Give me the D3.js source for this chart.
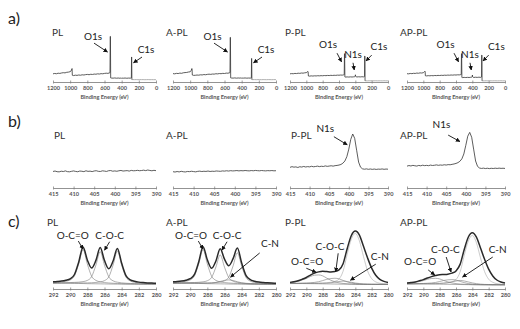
<!DOCTYPE html>
<html>
<head>
<meta charset="utf-8">
<script src="https://cdn.jsdelivr.net/npm/d3@7"></script>
<style>
  body { margin: 0; background: #fff; }
  svg { display: block; }
</style>
</head>
<body>
<svg id="chart" width="520" height="329"></svg>
<script>
// ---------- sample names ----------
const panelNames = ["PL", "A-PL", "P-PL", "AP-PL"];

// ---------- a) survey spectra ----------
const surveyTicks = [1200, 1000, 800, 600, 400, 200, 0];
const surveyBE = [1200,1180,1160,1140,1120,1100,1080,1060,1040,1020,1000,990,980,978,975,
  960,940,920,900,880,860,840,820,800,780,760,740,720,700,680,660,640,620,600,580,560,
  545,536,533,531,528,520,500,480,460,440,420,410,402,399,397,390,380,360,340,320,300,290,
  287,285,283,281,270,250,230,210,190,170,150,130,110,90,70,50,30,10,0];
const surveyPL = [17,17.8,17.2,18.3,17.9,18.8,19.4,19,20.2,20.6,21.5,23,27,28,14,
  13.4,14.2,13.8,14.6,14.1,15,14.6,15.3,15.8,15.2,16.1,15.7,16.5,16.2,17,16.6,17.4,17.1,17.9,18.3,18,
  18.8,19.5,95,95,8.5,8.2,8,8.4,7.9,8.3,7.8,8.2,7.9,8.3,7.8,8.1,7.9,8.3,7.8,8.2,8,8.3,
  8.6,52,52,5,5,4.9,5,4.8,5,4.9,5,4.8,4.9,5,4.8,4.9,4.8,4.9,4.8];
const surveyAPL = [17.5,17,18,17.6,18.5,18.1,19.2,19.6,19.9,20.8,21.2,23.5,28,27,14.5,
  13.8,14,14.5,14.2,15,14.7,15.5,15.1,15.9,16.3,15.9,16.6,16.4,17.2,16.9,17.6,17.3,18,17.7,18.5,18.3,
  19,19.6,93,93,8.6,8.3,8.1,8.5,8,8.4,8.1,8.4,8,8.5,8,8.2,8.1,8.4,8,8.3,8.1,8.4,
  8.8,49,49,5,4.9,5,4.8,5,4.9,4.8,5,4.9,4.8,5,4.9,4.8,4.9,5,4.9];
const surveyPPL = [17,17.5,17.2,17.9,17.6,18.3,18,18.7,18.4,19.1,19.5,21,22,21,12.5,
  12.2,12.8,12.4,12.9,12.6,13.1,12.8,13.2,13,13.5,13.2,13.7,13.4,13.9,13.6,14,13.8,14.3,14.1,14.5,14.3,
  14.8,15.2,59,59,10.5,10.2,10.6,10.3,10.7,10.4,10.8,11,12,15,12,10.8,10.5,10.9,10.6,11,10.7,11,
  11.4,54,54,2.5,2.5,2.4,2.6,2.5,2.4,2.5,2.6,2.4,2.5,2.5,2.4,2.6,2.5,2.4,2.5];
const surveyAPPL = [17.3,17,17.8,17.4,18.1,17.8,18.6,18.2,19,18.7,19.4,20.8,22.5,21.5,13,
  12.7,13.2,12.9,13.4,13,13.6,13.3,13.8,13.5,14,13.7,14.2,13.9,14.4,14.1,14.6,14.3,14.8,14.5,15,14.8,
  15.3,15.6,59,59,9.5,9.2,9.6,9.3,9.7,9.4,9.8,10,11,14.5,11,9.8,9.5,9.9,9.6,10,9.7,10,
  10.5,56,56,2.5,2.4,2.5,2.6,2.4,2.5,2.5,2.4,2.6,2.5,2.4,2.5,2.6,2.4,2.5,2.5];
const surveyNotes = [
  [{t:"O1s", tx:734, ty:87.5, x1:722, y1:81, x2:565, y2:62.5},
   {t:"C1s", tx:116, ty:60, x1:163, y1:52, x2:262, y2:40}],
  [{t:"O1s", tx:740, ty:87.5, x1:722, y1:81, x2:565, y2:62.5},
   {t:"C1s", tx:116, ty:60, x1:163, y1:52, x2:262, y2:40}],
  [{t:"O1s", tx:735, ty:71, x1:624, y1:60, x2:569, y2:42},
   {t:"N1s", tx:428, ty:50, x1:428, y1:40, x2:413, y2:25},
   {t:"C1s", tx:110, ty:67, x1:200, y1:56, x2:269, y2:44}],
  [{t:"O1s", tx:729, ty:71, x1:624, y1:60, x2:569, y2:42},
   {t:"N1s", tx:429, ty:50, x1:428, y1:40, x2:413, y2:25},
   {t:"C1s", tx:106, ty:67, x1:200, y1:56, x2:269, y2:44}]
];

// ---------- b) N1s high-resolution ----------
const n1sTicks = [415, 410, 405, 400, 395, 390];
const n1sBE = [415,414.5,414,413.5,413,412.5,412,411.5,411,410.5,410,409.5,409,408.5,408,407.5,
  407,406.5,406,405.5,405,404.5,404,403.5,403,402.5,402,401.5,401,400.5,400,399.5,399,398.5,
  398,397.5,397,396.5,396,395.5,395,394.5,394,393.5,393,392.5,392,391.5,391,390.5,390];
const n1sPL = [30.6,31.4,30.2,29.9,31.1,30.5,31.7,30.3,30,30.9,31.6,30.7,30.1,31.4,31,30.3,
  31.9,30.8,31.2,30.4,31.5,32,30.9,30.6,31.8,31.3,30.7,32,32.3,31.1,31.6,31,31.9,32.5,
  31.4,31.8,32.2,31.3,32.6,31.9,32.1,32.7,32,32.4,33,32.2,33.3,32.5,31.9,32.7,32.1];
const n1sAPL = [30.2,29.6,30.5,29.8,30.9,30.1,29.7,30.6,30.3,31,30.4,29.9,30.8,31.2,30.5,31,
  30.7,31.4,30.6,31.1,30.8,31.5,31.2,30.9,31.6,31.3,31.9,31.4,32.1,31.6,31.9,32.3,31.7,32.2,
  31.8,32.4,32,31.7,32.3,31.9,32.5,32.1,31.8,32.4,32,31.7,32.2,31.9,32.3,31.8,32];
const n1sPPL = [38.2,39.5,38.6,39.1,38,39.4,38.8,39.9,38.9,39.6,39.1,40.2,39.3,39.8,40.5,39.6,
  40.3,39.8,40.9,40.1,40.6,41.2,40.5,41.4,41.8,42.5,43.6,46,50,58,72,90,100,92,
  70,48,38.5,35.5,34.8,35.4,34.6,35.2,34.5,35.1,34.4,35,34.7,35.3,34.6,35.1,34.8];
const n1sAPPL = [40.5,41.6,40.8,41.9,41.2,40.6,41.8,41.1,42.2,41.4,41.9,41.3,42.4,41.7,42.1,42.8,
  42,42.6,42.2,43,42.5,43.3,43,43.8,44.5,45.5,47,49.5,54,63,79,96,103,94,
  72,50,40,37,36.2,36.8,36,36.6,35.9,36.5,36.1,36.7,36.2,36.8,36.3,36.6,36.2];
const n1sNotes = [
  [], [],
  [{t:"N1s", tx:406, ty:104, x1:403.8, y1:95, x2:400.4, y2:80}],
  [{t:"N1s", tx:406.2, ty:111, x1:404.5, y1:98, x2:401.5, y2:86}]
];

// ---------- c) C1s high-resolution with fitted components ----------
const c1sTicks = [292, 290, 288, 286, 284, 282, 280];
const c1sBE = [292,291.5,291,290.5,290,289.5,289,288.5,288,287.5,287,286.5,286,285.5,285,
  284.5,284,283.5,283,282.5,282,281.5,281,280.5,280];

// PL
const c1sPLmeas = [21,21.9,23.2,25.7,30.1,42.7,79.7,123.6,85.5,61.4,84.2,121.9,83.6,59.7,82.4,
  119,75.6,39.3,27.1,22.7,20.2,18.8,17.9,17.35,16.9];
const c1sPLbg = [17,17,16.9,16.8,16.7,16.5,16.3,16,15.7,15.5,15.3,15.1,14.9,14.7,14.5,14.3,14.2,14.1,14,14,14,14,14,14,14];
const c1sPLoco = [2.4,3,4,6,10,22,58,100,58,22,10,6,4,3,2.4,2,1.6,1.3,1.1,1,0.8,0.7,0.6,0.5,0.5];
const c1sPLcoc = [1,1.2,1.5,1.9,2.3,2.9,3.8,5.7,9.5,21,55,95,55,21,9.5,5.7,3.8,2.9,2.3,1.9,1.5,1.2,1,0.95,0.8];
const c1sPLcc = [0.6,0.7,0.8,1,1.1,1.3,1.6,1.9,2.3,2.9,3.9,5.8,9.7,21,56,97,56,21,9.7,5.8,3.9,2.9,2.3,1.9,1.6];

// A-PL
const c1sAPLmeas = [21.2,22,23.4,25.8,30.2,42.9,80,123.9,85.8,61,82.3,118.6,87.9,68.6,89.3,
  120.4,76.6,40.2,27.5,23,20.5,19.1,18.1,17.45,17];
const c1sAPLbg = [17,17,16.9,16.8,16.7,16.5,16.3,16,15.7,15.5,15.3,15.1,14.9,14.7,14.5,14.3,14.2,14.1,14,14,14,14,14,14,14];
const c1sAPLoco = [2.4,3,4,6,10,22,58,100,58,22,10,6,4,3,2.4,2,1.6,1.3,1.1,1,0.8,0.7,0.6,0.5,0.5];
const c1sAPLcoc = [0.9,1.1,1.4,1.7,2,2.6,3.4,5.1,8.5,18.7,49.3,85,49.3,18.7,8.5,5.1,3.4,2.6,2,1.7,1.4,1.1,0.9,0.85,0.7];
const c1sAPLcc = [0.55,0.6,0.7,0.9,1,1.2,1.5,1.8,2.2,2.8,3.7,5.5,9.2,20.2,53.4,92,53.4,20.2,9.2,5.5,3.7,2.8,2.2,1.8,1.5];
const c1sAPLcn = [0.3,0.3,0.4,0.4,0.5,0.6,0.8,1,1.4,2,4,7,10.5,12,10.5,7,4,2,1.2,0.8,0.6,0.5,0.4,0.3,0.3];

// P-PL
const c1sPPLmeas = [19.5,21.3,24.2,28.7,33.9,40.9,46.6,50.4,52.3,51.3,50.3,51.6,56.2,74.4,118.4,
  156.7,170.4,158.5,125.4,91.4,61.4,40.4,28.4,22.4,19.4];
const c1sPPLbg = [16,16,16,16,15.9,15.8,15.6,15.4,15.2,15,14.8,14.6,14.4,14.2,14,13.8,13.6,13.5,13.4,13.4,13.4,13.4,13.4,13.4,13.4];
const c1sPPLoco = [2.5,4,6.5,10.5,15,21,25,26,23.5,17,11,6.5,3.8,2.2,1.4,0.9,0.6,0.4,0.3,0.3,0.2,0.2,0.2,0.1,0.1];
const c1sPPLcoc = [0.4,0.6,0.8,1.2,1.7,2.5,3.8,6,9.5,13.5,16,17,15.5,11,7,4,2.2,1.2,0.8,0.5,0.4,0.3,0.2,0.2,0.1];
const c1sPPLcn = [0.2,0.2,0.3,0.3,0.4,0.5,0.7,1,1.5,2.3,3.5,5.5,7.5,9,8,6,4,2.5,1.4,0.8,0.5,0.3,0.2,0.2,0.1];
const c1sPPLcc = [0.4,0.5,0.6,0.7,0.9,1.1,1.5,2,2.6,3.5,5,8,15,38,88,132,150,128,82,40,17,7.5,3.5,1.8,1];

// AP-PL
const c1sAPPLmeas = [17.5,18.9,20.8,24,27.5,32.4,36.4,39.5,41.9,42.7,43.7,46.8,53.2,72.4,115.4,
  152.3,165.1,152.5,120.4,87.4,58.4,38.4,26.4,20.4,17.4];
const c1sAPPLbg = [15,15,15,15,14.9,14.8,14.6,14.4,14.2,14,13.8,13.6,13.4,13.2,13,12.8,12.6,12.5,12.4,12.4,12.4,12.4,12.4,12.4,12.4];
const c1sAPPLoco = [1.6,2.6,4.2,6.9,9.8,13.7,16.3,17,15.4,11.1,7.2,4.2,2.5,1.4,0.9,0.6,0.4,0.3,0.2,0.2,0.1,0.1,0.1,0.1,0.1];
const c1sAPPLcoc = [0.3,0.5,0.7,1,1.4,2.1,3.1,4.9,7.8,11.1,13.2,14,12.8,9.1,5.8,3.3,1.8,1,0.7,0.4,0.3,0.2,0.2,0.1,0.1];
const c1sAPPLcn = [0.2,0.3,0.3,0.4,0.5,0.7,0.9,1.3,2,3.1,4.7,7.3,10,12,10.7,8,5.3,3.3,1.9,1.1,0.7,0.4,0.3,0.2,0.1];
const c1sAPPLcc = [0.4,0.5,0.6,0.7,0.9,1.1,1.5,1.9,2.5,3.4,4.8,7.7,14.5,36.7,85,127.6,145,123.7,79.3,38.7,16.4,7.3,3.4,1.7,1];

const c1sNotes = [
  [{t:"O-C=O", tx:289.7, ty:148, x1:289.05, y1:141, x2:288.5, y2:117},
   {t:"C-O-C", tx:285.4, ty:148, x1:285.4, y1:139, x2:286.0, y2:114}],
  [{t:"O-C=O", tx:289.9, ty:148, x1:289.05, y1:141, x2:288.5, y2:117},
   {t:"C-O-C", tx:285.7, ty:148, x1:285.7, y1:139, x2:286.3, y2:114},
   {t:"C-N", tx:280.7, ty:124, x1:281.9, y1:106, x2:285.3, y2:35}],
  [{t:"O-C=O", tx:289.9, ty:71, x1:290.0, y1:61, x2:288.8, y2:49},
   {t:"C-O-C", tx:287.1, ty:115, x1:286.1, y1:105, x2:286.4, y2:51},
   {t:"C-N", tx:281.0, ty:85, x1:281.5, y1:73, x2:284.6, y2:26}],
  [{t:"O-C=O", tx:290.4, ty:71, x1:289.4, y1:56, x2:288.6, y2:41},
   {t:"C-O-C", tx:287.3, ty:106, x1:287.2, y1:94, x2:286.6, y2:50},
   {t:"C-N", tx:280.9, ty:106, x1:281.5, y1:94, x2:285.2, y2:35}]
];

// ---------- layout ----------
const FONT = "Lato, 'Open Sans', 'Liberation Sans', sans-serif";
const panelX = [[53, 156], [173, 276], [290, 388], [407, 505]];
const rows = [
  {label: "a)", labelY: 24, axisY: 82, k: 0.48, titleY: 36, titleX: [52, 166, 285, 400]},
  {label: "b)", labelY: 127, axisY: 188, k: 0.54, titleY: 139, titleX: [54, 166, 291, 400]},
  {label: "c)", labelY: 227, axisY: 289, k: 0.34, titleY: 226, titleX: [47, 166, 285, 400]}
];

const svg = d3.select("#chart");
svg.append("rect").attr("width", 520).attr("height", 329).attr("fill", "#fff");

svg.append("defs").append("marker")
  .attr("id", "ah").attr("viewBox", "0 0 10 10")
  .attr("refX", 9).attr("refY", 5)
  .attr("markerWidth", 4.5).attr("markerHeight", 4.5)
  .attr("markerUnits", "userSpaceOnUse").attr("orient", "auto")
  .append("path").attr("d", "M0,0L10,5L0,10z").attr("fill", "#111");

function makeScales(row, pi, domain) {
  const x = d3.scaleLinear().domain(domain).range(panelX[pi]);
  const y = d3.scaleLinear().domain([0, 100]).range([row.axisY, row.axisY - 100 * row.k]);
  return {x, y};
}

function drawAxis(g, row, x, ticks) {
  const ax = g.append("g")
    .attr("transform", `translate(0,${row.axisY})`)
    .call(d3.axisBottom(x).tickValues(ticks).tickSizeOuter(0).tickSizeInner(2)
      .tickPadding(2.5).tickFormat(d3.format("d")));
  ax.select(".domain").attr("stroke", "#777").attr("stroke-width", 0.8);
  ax.selectAll(".tick line").attr("stroke", "#777").attr("stroke-width", 0.7)
    .attr("y1", -1.5).attr("y2", 1.5);
  ax.selectAll(".tick text").attr("font-size", 5.6).attr("fill", "#555")
    .attr("font-family", FONT).attr("font-weight", 700);
  const r = x.range();
  g.append("text").attr("x", (r[0] + r[1]) / 2).attr("y", row.axisY + 17)
    .attr("text-anchor", "middle").attr("font-size", 5.6).attr("font-weight", 700)
    .attr("fill", "#555").attr("font-family", FONT).text("Binding Energy (eV)");
}

function drawNotes(g, notes, x, y) {
  notes.forEach(n => {
    g.append("text").attr("x", x(n.tx)).attr("y", y(n.ty)).attr("text-anchor", "middle")
      .attr("font-size", 10).attr("fill", "#222").attr("font-family", FONT).text(n.t);
    g.append("line").attr("x1", x(n.x1)).attr("y1", y(n.y1)).attr("x2", x(n.x2)).attr("y2", y(n.y2))
      .attr("stroke", "#111").attr("stroke-width", 0.9).attr("marker-end", "url(#ah)");
  });
}

function drawTitle(g, row, pi) {
  g.append("text").attr("x", row.titleX[pi]).attr("y", row.titleY)
    .attr("font-size", 10).attr("fill", "#333").attr("font-family", FONT).text(panelNames[pi]);
}

rows.forEach(row => {
  svg.append("text").attr("x", 8).attr("y", row.labelY).attr("font-size", 16)
    .attr("fill", "#222").attr("font-family", FONT).text(row.label);
});

// a) survey spectra
const surveySets = [surveyPL, surveyAPL, surveyPPL, surveyAPPL];
const tailStart = surveyBE.indexOf(281);
surveySets.forEach((vals, pi) => {
  const row = rows[0];
  const g = svg.append("g");
  const {x, y} = makeScales(row, pi, [1200, 0]);
  drawTitle(g, row, pi);
  drawAxis(g, row, x, surveyTicks);
  const pts = vals.map((v, i) => [surveyBE[i], v]);
  const line = d3.line().x(d => x(d[0])).y(d => y(d[1]));
  g.append("path").attr("d", line(pts.slice(tailStart)))
    .attr("fill", "none").attr("stroke", "#9a9a9a").attr("stroke-width", 0.8);
  g.append("path").attr("d", line(pts.slice(0, tailStart + 1)))
    .attr("fill", "none").attr("stroke", "#333").attr("stroke-width", 0.8);
  drawNotes(g, surveyNotes[pi], x, y);
});

// b) N1s spectra
const n1sSets = [n1sPL, n1sAPL, n1sPPL, n1sAPPL];
n1sSets.forEach((vals, pi) => {
  const row = rows[1];
  const g = svg.append("g");
  const {x, y} = makeScales(row, pi, [415, 390]);
  drawTitle(g, row, pi);
  drawAxis(g, row, x, n1sTicks);
  const line = d3.line().x((d, i) => x(n1sBE[i])).y(d => y(d));
  g.append("path").attr("d", line(vals))
    .attr("fill", "none").attr("stroke", "#333").attr("stroke-width", 0.8);
  drawNotes(g, n1sNotes[pi], x, y);
});

// c) C1s spectra with peak fitting
const c1sSets = [
  {meas: c1sPLmeas, bg: c1sPLbg, comps: [c1sPLoco, c1sPLcoc, c1sPLcc], main: null},
  {meas: c1sAPLmeas, bg: c1sAPLbg, comps: [c1sAPLoco, c1sAPLcoc, c1sAPLcc, c1sAPLcn], main: null},
  {meas: c1sPPLmeas, bg: c1sPPLbg, comps: [c1sPPLoco, c1sPPLcoc, c1sPPLcn], main: c1sPPLcc},
  {meas: c1sAPPLmeas, bg: c1sAPPLbg, comps: [c1sAPPLoco, c1sAPPLcoc, c1sAPPLcn], main: c1sAPPLcc}
];
c1sSets.forEach((set, pi) => {
  const row = rows[2];
  const g = svg.append("g");
  const {x, y} = makeScales(row, pi, [292, 280]);
  drawTitle(g, row, pi);
  drawAxis(g, row, x, c1sTicks);
  const line = d3.line().x((d, i) => x(c1sBE[i])).y(d => y(d)).curve(d3.curveMonotoneX);
  const onBg = comp => comp.map((v, i) => v + set.bg[i]);
  g.append("path").attr("d", line(set.bg))
    .attr("fill", "none").attr("stroke", "#777").attr("stroke-width", 0.6);
  if (set.main) {
    g.append("path").attr("d", line(onBg(set.main)))
      .attr("fill", "none").attr("stroke", "#b5b5b5").attr("stroke-width", 0.7);
  }
  set.comps.forEach(c => {
    g.append("path").attr("d", line(onBg(c)))
      .attr("fill", "none").attr("stroke", "#7a7a7a").attr("stroke-width", 0.6);
  });
  g.append("path").attr("d", line(set.meas))
    .attr("fill", "none").attr("stroke", "#2a2a2a").attr("stroke-width", 1.5);
  drawNotes(g, c1sNotes[pi], x, y);
});
</script>
</body>
</html>
